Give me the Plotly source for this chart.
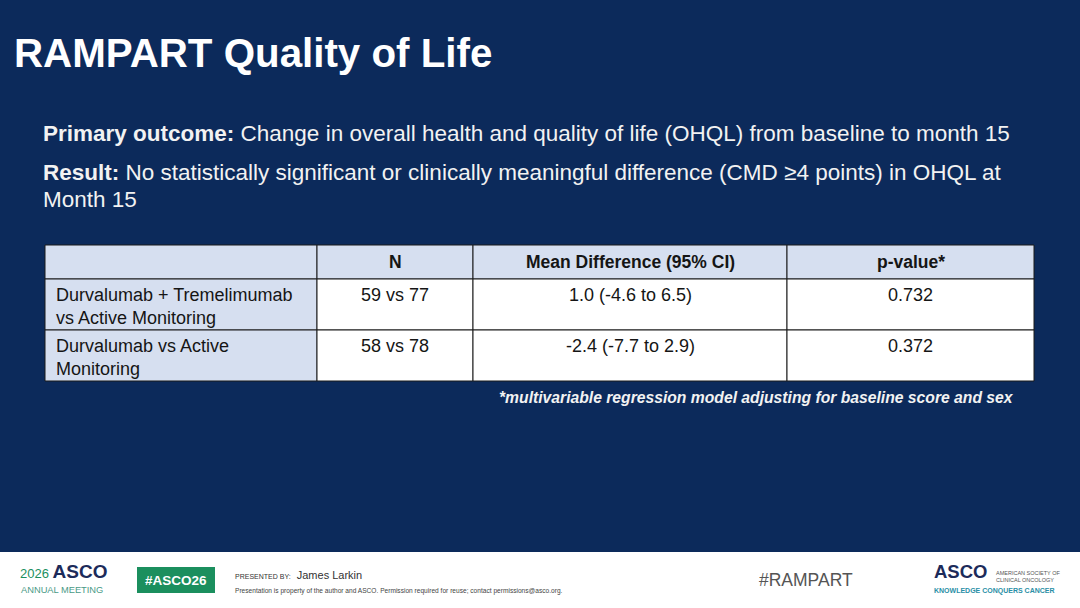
import plotly.graph_objects as go

W, H = 1080, 608
NAVY = "#0c2a5b"
LIGHT = "#d6dff0"
GREEN = "#1b8f5e"
INK = "#151515"

# ── Data ─────────────────────────────────────────────────
header = ["", "N", "Mean Difference (95% CI)", "p-value*"]
comparisons = ["Durvalumab + Tremelimumab<br>vs Active Monitoring",
               "Durvalumab vs Active<br>Monitoring"]
n_values = ["59 vs 77", "58 vs 78"]
mean_diff = ["1.0 (-4.6 to 6.5)", "-2.4 (-7.7 to 2.9)"]
p_values = ["0.732", "0.372"]

title = "RAMPART Quality of Life"
line1 = "<b>Primary outcome:</b> Change in overall health and quality of life (OHQL) from baseline to month 15"
line2 = ("<b>Result:</b> No statistically significant or clinically meaningful difference "
         "(CMD ≥4 points) in OHQL at")
line3 = "Month 15"
footnote = "*multivariable regression model adjusting for baseline score and sex"

FONT = "Liberation Sans, Arial, sans-serif"

# ── Table geometry (pixels) ─────────────────────────────
TX0 = 45
COL_W = [272, 156, 314, 247]
ROW_EDGES = [245, 279, 330, 381]


def px(x):
    return x / W


def py(y):
    return 1 - y / H


fig = go.Figure()


def add_text(x, y, text, size, color, xanchor="left", yanchor="middle", align="left"):
    fig.add_annotation(x=px(x), y=py(y), xref="paper", yref="paper", showarrow=False,
                       text=text, xanchor=xanchor, yanchor=yanchor, align=align,
                       font=dict(family=FONT, size=size, color=color))


def add_rect(x0, y0, x1, y1, fill, line_color=None, layer="below"):
    fig.add_shape(type="rect", xref="paper", yref="paper",
                  x0=px(x0), x1=px(x1), y0=py(y1), y1=py(y0),
                  fillcolor=fill, layer=layer,
                  line=dict(color=line_color or fill, width=1 if line_color else 0))


# ── Table ────────────────────────────────────────────────
col_edges = [TX0]
for w in COL_W:
    col_edges.append(col_edges[-1] + w)

columns = [comparisons, n_values, mean_diff, p_values]
for ci in range(len(COL_W)):
    x0, x1 = col_edges[ci], col_edges[ci + 1]
    # header cell
    add_rect(x0, ROW_EDGES[0], x1, ROW_EDGES[1], LIGHT, "#1a1a1a")
    if header[ci]:
        add_text((x0 + x1) / 2, (ROW_EDGES[0] + ROW_EDGES[1]) / 2, f"<b>{header[ci]}</b>",
                 17.5, INK, xanchor="center")
    for ri, val in enumerate(columns[ci]):
        y0, y1 = ROW_EDGES[ri + 1], ROW_EDGES[ri + 2]
        add_rect(x0, y0, x1, y1, LIGHT if ci == 0 else "white", "#1a1a1a")
        if ci == 0:
            add_text(x0 + 9, y0 + 4, val, 18, INK, yanchor="top")
        else:
            add_text((x0 + x1) / 2, y0 + 4, val, 18, INK, xanchor="center", yanchor="top",
                     align="center")

# ── Slide text ───────────────────────────────────────────
add_text(12, 53, f"<b>{title}</b>", 40.3, "white")
add_text(41, 133, line1, 22.5, "#f2f2f2")
add_text(41, 172, line2, 22.5, "#f2f2f2")
add_text(41, 199, line3, 22.5, "#f2f2f2")
add_text(1016, 397, f"<b><i>{footnote}</i></b>", 15.7, "#f2f2f2", xanchor="right")

# ── Footer ───────────────────────────────────────────────
add_rect(0, 552, W, H, "white")
add_rect(137, 567, 215, 593, GREEN)

add_text(18, 584, "<span style='color:#1b8f5e;font-size:13px'>2026 </span><b>ASCO</b>",
         19, "#1c2b5a", yanchor="bottom")
add_text(19, 583, "ANNUAL MEETING", 9.3, "#4a9a86", yanchor="top")
add_text(176, 580, "<b>#ASCO26</b>", 13.5, "white", xanchor="center")
add_text(233, 575, "<span style='font-size:7px'>PRESENTED BY:</span>  James Larkin",
         11, "#333333")
add_text(233, 591, "Presentation is property of the author and ASCO. Permission required "
         "for reuse; contact permissions@asco.org.", 6.6, "#444444")
add_text(806, 580, "#RAMPART", 17.5, "#555555", xanchor="center")
add_text(932, 584, "<b>ASCO</b>", 18.5, "#1c2b5a", yanchor="bottom")
add_text(994, 576, "AMERICAN SOCIETY OF<br>CLINICAL ONCOLOGY", 5.5, "#555555")
add_text(932, 585, "<b>KNOWLEDGE CONQUERS CANCER</b>", 7, "#2a8fa6", yanchor="top")

fig.update_layout(
    width=W, height=H, margin=dict(l=0, r=0, t=0, b=0),
    paper_bgcolor=NAVY, plot_bgcolor=NAVY,
    font=dict(family=FONT),
    xaxis=dict(visible=False), yaxis=dict(visible=False),
)

fig.write_html("out.html", config={"displayModeBar": False},
               post_script="document.body.style.margin='0';document.body.style.overflow='hidden';")
